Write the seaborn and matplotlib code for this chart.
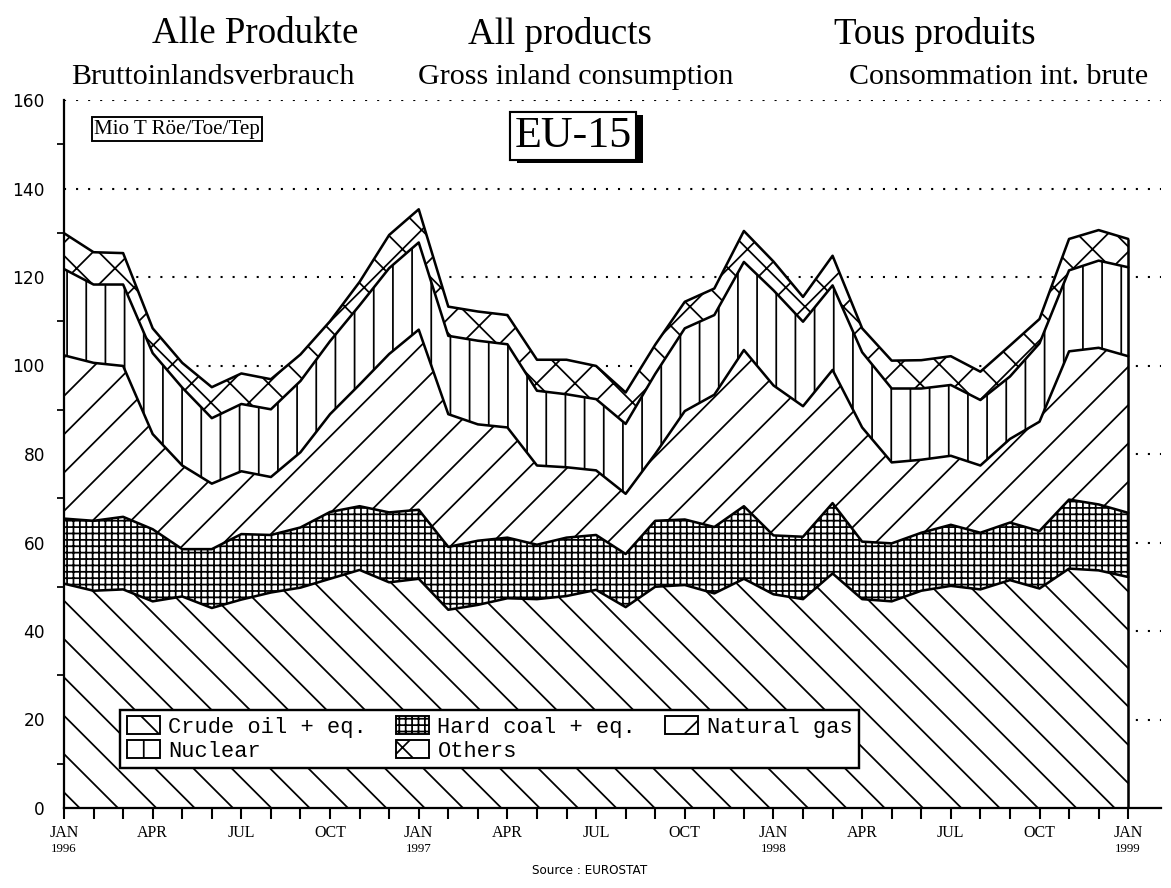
import numpy as np
import pandas as pd
import matplotlib
matplotlib.use("Agg")
import matplotlib.pyplot as plt
import matplotlib.patheffects as pe
from matplotlib.patches import Patch
import seaborn as sns

# monthly gross inland consumption, EU-15, Mio toe (Jan 1996 .. Jan 1999)
months = np.arange(37)
crude_oil = [50.7, 49.1, 49.4, 46.7, 47.8, 45.2, 47.1, 48.7, 49.8, 51.8, 53.8, 51.0,
             51.8, 44.8, 45.9, 47.4, 47.2, 47.9, 49.3, 45.4, 50.0, 50.4, 48.5, 51.8,
             48.3, 47.2, 53.0, 47.2, 46.7, 49.1, 50.2, 49.4, 51.5, 49.6, 54.1, 53.7, 52.2]
hard_coal = [14.7, 15.8, 16.4, 16.3, 10.7, 13.3, 14.8, 13.0, 13.6, 15.1, 14.4, 15.8,
             15.6, 14.2, 14.5, 13.7, 12.3, 13.2, 12.4, 12.0, 14.9, 14.8, 15.0, 16.4,
             13.3, 14.1, 15.9, 13.0, 13.1, 13.1, 13.8, 12.8, 13.0, 13.0, 15.6, 14.9, 14.5]
natural_gas = [36.9, 35.7, 34.1, 21.5, 18.9, 14.8, 14.2, 13.1, 17.0, 22.1, 27.5, 35.8,
               40.7, 30.0, 26.3, 24.9, 17.9, 15.9, 14.6, 13.6, 15.1, 24.5, 29.9, 35.3,
               33.9, 29.5, 30.1, 25.8, 18.3, 16.5, 15.6, 15.2, 18.9, 24.7, 33.5, 35.4, 35.4]
nuclear = [19.5, 17.7, 18.4, 18.3, 17.6, 14.8, 15.2, 15.3, 16.1, 16.5, 17.9, 19.4,
           19.7, 17.7, 18.9, 18.8, 16.9, 16.5, 16.1, 15.8, 18.1, 18.7, 18.0, 19.9,
           21.5, 19.1, 19.1, 17.0, 16.7, 16.1, 16.0, 14.8, 14.1, 17.7, 18.3, 19.7, 20.1]
others = [8.1, 7.3, 7.1, 5.6, 5.6, 7.0, 6.9, 6.8, 6.0, 4.5, 5.3, 7.5,
          7.5, 6.6, 6.6, 6.6, 7.0, 7.8, 7.5, 7.1, 6.6, 6.0, 6.0, 7.0,
          6.5, 5.6, 6.7, 5.4, 6.3, 6.4, 6.5, 6.4, 7.0, 5.5, 7.1, 6.9, 6.4]

series_names = ["Crude oil + eq.", "Hard coal + eq.", "Natural gas", "Nuclear", "Others"]
hatches = ["\\", "+++", "/", "|", "x"]

month_labels = ["JAN", "APR", "JUL", "OCT"] * 3 + ["JAN"]
year_labels = ["1996", "1997", "1998", "1999"]

DPI = 115
def pt(px):
    return px * 72.0 / DPI

sns.set_style("white")
plt.rcParams["hatch.linewidth"] = 1.1
plt.rcParams["hatch.color"] = "black"
for k in ["text.color", "axes.labelcolor", "xtick.color", "ytick.color"]:
    plt.rcParams[k] = "black"

fig = plt.figure(figsize=(1171 / DPI, 888 / DPI), dpi=DPI)
ax = fig.add_axes([64 / 1171, 80 / 888, 1096.7 / 1171, 708 / 888])

# cumulative layers
values = np.array([crude_oil, hard_coal, natural_gas, nuclear, others])
tops = np.cumsum(values, axis=0)
bottoms = np.vstack([np.zeros(len(months)), tops[:-1]])

for i in range(len(series_names)):
    ax.fill_between(months, bottoms[i], tops[i], facecolor="white",
                    edgecolor="black", hatch=hatches[i], linewidth=0, zorder=2)

# boundaries through seaborn
df = pd.DataFrame({"month": np.tile(months, len(series_names)),
                   "top": tops.ravel(),
                   "layer": np.repeat(series_names, len(months))})
sns.lineplot(data=df, x="month", y="top", hue="layer",
             palette=["black"] * len(series_names), legend=False,
             linewidth=1.6, ax=ax, zorder=3)
ax.vlines(months[-1], 0, tops[-1][-1], color="black", linewidth=1.6, zorder=3)

# axes
ax.set_xlim(0, 37.1)
ax.set_ylim(0, 160)
ax.set_xlabel("")
ax.set_ylabel("")
for s in ["top", "right"]:
    ax.spines[s].set_visible(False)
for s in ["left", "bottom"]:
    ax.spines[s].set_linewidth(1.4)
    ax.spines[s].set_color("black")

ax.set_yticks(np.arange(0, 161, 20))
ax.set_yticks(np.arange(10, 160, 20), minor=True)
ax.set_yticklabels([str(v) for v in range(0, 161, 20)],
                   fontsize=pt(17), family="DejaVu Sans")
ax.set_xticks(months, minor=True)
ax.set_xticks(np.arange(0, 37, 3))
ax.set_xticklabels(month_labels, fontsize=pt(16), family="Liberation Serif")
ax.tick_params(axis="y", which="major", direction="out", length=pt(11), width=1.3, pad=pt(8))
ax.tick_params(axis="y", which="minor", direction="out", length=pt(7), width=1.1, left=True)
ax.tick_params(axis="x", which="both", direction="out", length=pt(11), width=1.3, bottom=True, pad=pt(6))

# years under the JAN labels
for k, yl in enumerate(year_labels):
    ax.annotate(yl, xy=(k * 12, 0), xycoords=("data", "axes fraction"),
                xytext=(0, -pt(41)), textcoords="offset points",
                ha="center", va="center", fontsize=pt(13), family="Liberation Serif")

# dotted grid
for g in range(20, 161, 20):
    ax.axhline(g, color="black", linestyle=(0, (1, 4.8)), linewidth=1.3, zorder=1)

# legend
handles = [Patch(facecolor="white", edgecolor="black", hatch=h, linewidth=1.2) for h in hatches]
order = [0, 3, 1, 4, 2]
leg = ax.legend([handles[i] for i in order], [series_names[i] for i in order],
                ncol=3, loc="lower left", bbox_to_anchor=(0.051, 0.056),
                borderaxespad=0, frameon=True, fancybox=False, framealpha=1,
                edgecolor="black", prop={"family": "Liberation Mono", "size": pt(22)},
                handlelength=1.5, handleheight=0.9, handletextpad=0.4,
                columnspacing=1.3, labelspacing=0.1, borderpad=0.3)
leg.get_frame().set_linewidth(1.5)
leg.set_zorder(5)

# unit box
ax.text((94 - 64) / 1096.7, (808 - 129) / 708, "Mio T Röe/Toe/Tep", transform=ax.transAxes,
        ha="left", va="center", fontsize=pt(21), family="Liberation Serif", zorder=6,
        bbox=dict(boxstyle="square,pad=0.1", facecolor="white", edgecolor="black", linewidth=1.2))

# EU-15 box with shadow
eu = ax.text((573 - 64) / 1096.7, (808 - 136) / 708, "EU-15", transform=ax.transAxes,
             ha="center", va="center", fontsize=pt(44), family="Liberation Serif", zorder=6,
             bbox=dict(boxstyle="square,pad=0.1", facecolor="white", edgecolor="black", linewidth=1.3))
eu.get_bbox_patch().set_path_effects([
    pe.withSimplePatchShadow(offset=(pt(7), -pt(3)), shadow_rgbFace="black", alpha=1), pe.Normal()])

# titles
title_font = "Liberation Serif"
for x, t in [(255, "Alle Produkte"), (560, "All products"), (935, "Tous produits")]:
    fig.text(x / 1171, 1 - 34 / 888, t, ha="center", va="center",
             fontsize=pt(37), family=title_font)
for x, t in [(213, "Bruttoinlandsverbrauch"), (576, "Gross inland consumption"),
             (999, "Consommation int. brute")]:
    fig.text(x / 1171, 1 - 77 / 888, t, ha="center", va="center",
             fontsize=pt(30), family=title_font)

fig.text(590 / 1171, 1 - 870 / 888, "Source : EUROSTAT", ha="center", va="center",
         fontsize=pt(12), family="DejaVu Sans")

fig.savefig("out.png", dpi=DPI, facecolor="white")
